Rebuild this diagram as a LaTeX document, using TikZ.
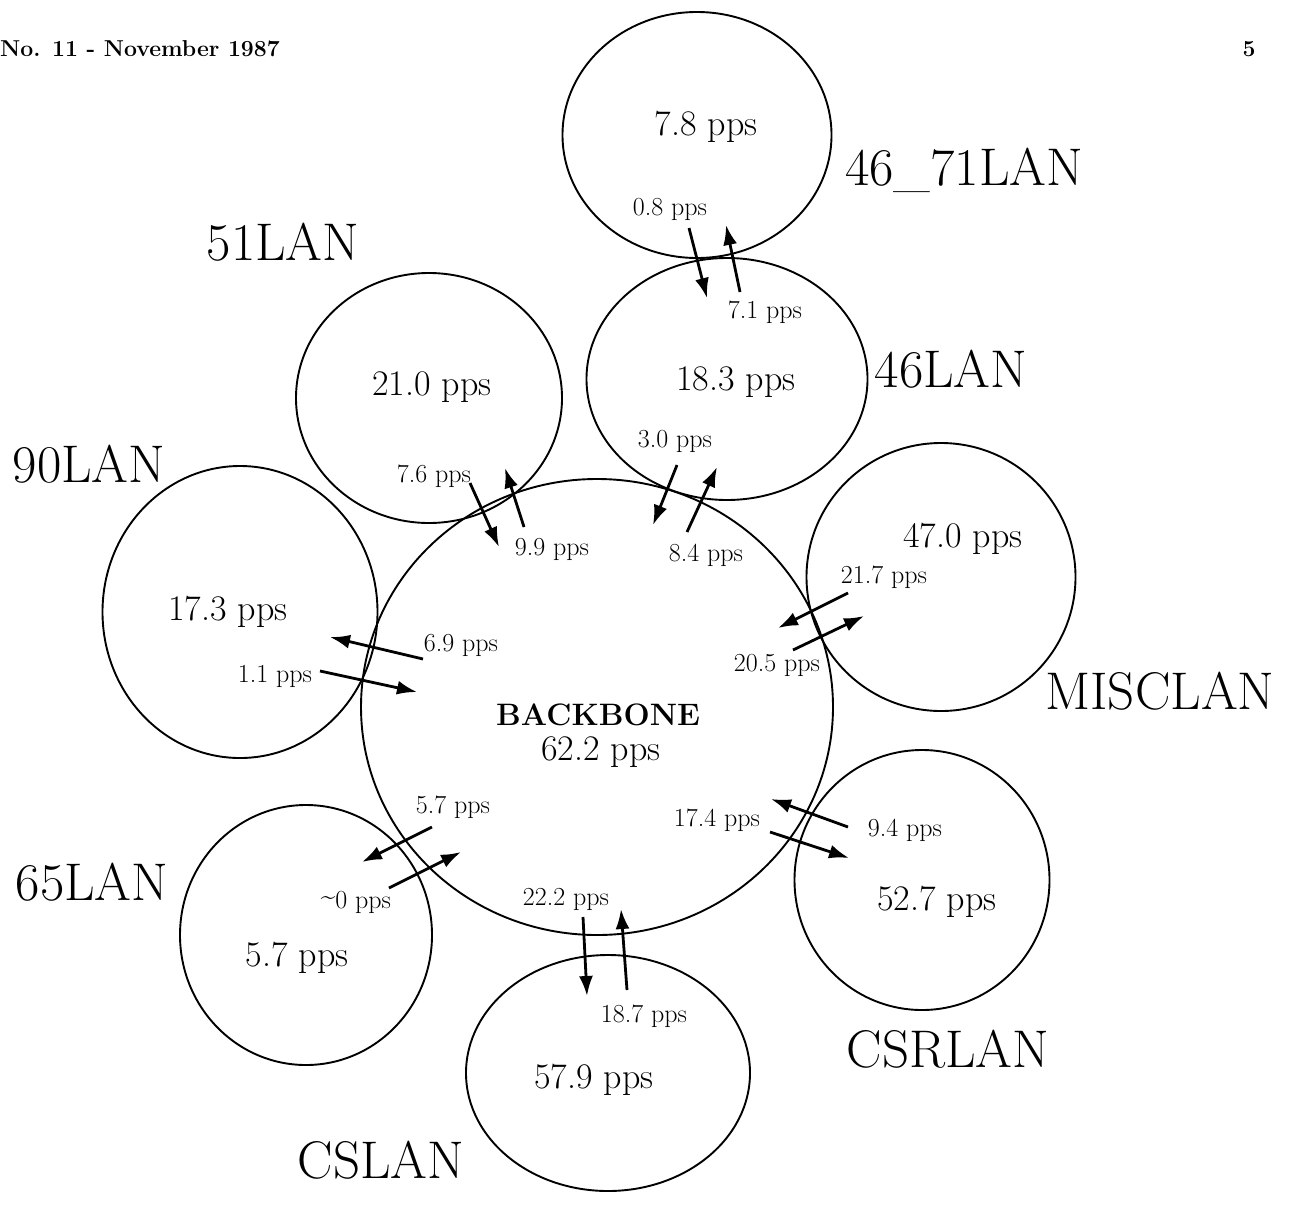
\documentclass[tikz,border=0pt]{standalone}
\usetikzlibrary{arrows.meta,shapes.geometric}
\tikzset{
  lan/.style={draw, ellipse, line width=1.9pt, inner sep=0pt},
  flow/.style={line width=2.8pt, -{Latex[length=20pt,width=14pt]}},
  bigname/.style={anchor=base, inner sep=0pt, font=\fontsize{53}{53}\selectfont},
  rate/.style={anchor=base, inner sep=0pt, font=\fontsize{36}{36}\selectfont},
  small/.style={anchor=base, inner sep=0pt, font=\fontsize{26}{26}\selectfont},
}
\begin{document}
\begin{tikzpicture}[x=1pt,y=-1pt]
\useasboundingbox (0,0) rectangle (1297,1210);
% header
\node[anchor=base west, inner sep=0pt, font=\fontsize{23}{23}\selectfont\bfseries] (hdr) at (0,56) {No. 11 - November 1987};
\node[anchor=base, inner sep=0pt, font=\fontsize{23}{23}\selectfont\bfseries] (pg) at (1249,56) {5};
% circles
\node[lan, minimum width=472pt, minimum height=456pt] (bb) at (597,707) {};
\node[lan, minimum width=269pt, minimum height=246pt] (c4671) at (697,135) {};
\node[lan, minimum width=281pt, minimum height=242pt] (c46) at (727,379) {};
\node[lan, minimum width=266pt, minimum height=250pt] (c51) at (429,398) {};
\node[lan, minimum width=275pt, minimum height=292pt] (c90) at (240,612) {};
\node[lan, minimum width=269pt, minimum height=268pt] (cmisc) at (941,577) {};
\node[lan, minimum width=255pt, minimum height=260pt] (ccsr) at (922,880) {};
\node[lan, minimum width=284pt, minimum height=236pt] (ccs) at (608,1073) {};
\node[lan, minimum width=252pt, minimum height=260pt] (c65) at (306,935) {};
% LAN names
\node[bigname] (n4671) at (964,185) {46\_71LAN};
\node[bigname] (n51) at (283,260) {51LAN};
\node[bigname] (n46) at (951,387) {46LAN};
\node[bigname] (n90) at (89,482) {90LAN};
\node[bigname] (nmisc) at (1160,709) {MISCLAN};
\node[bigname] (n65) at (92,900) {65LAN};
\node[bigname] (ncsr) at (948,1067) {CSRLAN};
\node[bigname] (ncs) at (381,1178) {CSLAN};
% rates inside circles
\node[rate] (r4671) at (706,135) {7.8 pps};
\node[rate] (r46) at (736,390) {18.3 pps};
\node[rate] (r51) at (432,395) {21.0 pps};
\node[rate] (r90) at (228,620) {17.3 pps};
\node[rate] (rmisc) at (963,547) {47.0 pps};
\node[rate, font=\fontsize{31}{31}\selectfont\bfseries] (rbbname) at (598,725) {BACKBONE};
\node[rate] (rbb) at (601,760) {62.2 pps};
\node[rate] (rcsr) at (937,910) {52.7 pps};
\node[rate] (r65) at (297,966) {5.7 pps};
\node[rate] (rcs) at (594,1088) {57.9 pps};
% flow labels
\node[small] (l1) at (670,215) {0.8 pps};
\node[small] (l2) at (765,318) {7.1 pps};
\node[small] (l3) at (434,482) {7.6 pps};
\node[small] (l4) at (552,555) {9.9 pps};
\node[small] (l5) at (675,447) {3.0 pps};
\node[small] (l6) at (706,561) {8.4 pps};
\node[small] (l7) at (461,651) {6.9 pps};
\node[small] (l8) at (275,682) {1.1 pps};
\node[small] (l9) at (884,583) {21.7 pps};
\node[small] (l10) at (777,671) {20.5 pps};
\node[small] (l11) at (717,826) {17.4 pps};
\node[small] (l12) at (905,836) {9.4 pps};
\node[small] (l13) at (453,813) {5.7 pps};
\node[small] (l14) at (356,908) {\raisebox{0.35ex}{\char126}0 pps};
\node[small] (l15) at (566,905) {22.2 pps};
\node[small] (l16) at (644,1022) {18.7 pps};
% arrow end points
\coordinate (a1s) at (689,228); \coordinate (a1e) at (707,298);
\coordinate (a2s) at (740,292); \coordinate (a2e) at (726,225);
\coordinate (a3s) at (470,483); \coordinate (a3e) at (499,547);
\coordinate (a4s) at (524,527); \coordinate (a4e) at (505,468);
\coordinate (a5s) at (677,465); \coordinate (a5e) at (653,525);
\coordinate (a6s) at (687,532); \coordinate (a6e) at (717,467);
\coordinate (a7s) at (423,659); \coordinate (a7e) at (330,637);
\coordinate (a8s) at (320,671); \coordinate (a8e) at (417,692);
\coordinate (a9s) at (848,593); \coordinate (a9e) at (778,628);
\coordinate (a10s) at (793,650); \coordinate (a10e) at (864,616);
\coordinate (a11s) at (848,827); \coordinate (a11e) at (771,799);
\coordinate (a12s) at (770,832); \coordinate (a12e) at (849,858);
\coordinate (a13s) at (432,827); \coordinate (a13e) at (362,862);
\coordinate (a14s) at (389,888); \coordinate (a14e) at (461,852);
\coordinate (a15s) at (583,917); \coordinate (a15e) at (587,996);
\coordinate (a16s) at (627,990); \coordinate (a16e) at (621,909);
\foreach \i in {1,...,16} { \draw[flow] (a\i s) -- (a\i e); }
\end{tikzpicture}
\end{document}
